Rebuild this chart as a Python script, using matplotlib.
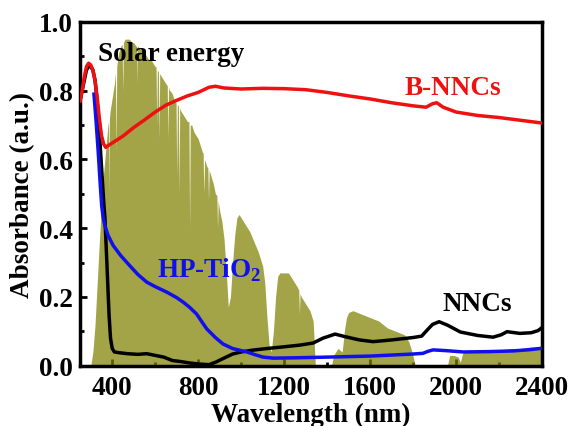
import matplotlib
matplotlib.use('Agg')
import matplotlib.pyplot as plt
from matplotlib.ticker import MultipleLocator

plt.rcParams['font.family'] = 'Liberation Serif'
plt.rcParams['font.weight'] = 'bold'
plt.rcParams['mathtext.fontset'] = 'custom'
plt.rcParams['mathtext.rm'] = 'Liberation Serif:bold'
plt.rcParams['mathtext.bf'] = 'Liberation Serif:bold'

# solar spectrum (scaled), incl. the narrow absorption dips
solar_nm = [280, 300, 310, 320, 330, 340, 350, 360, 370, 380, 383, 385, 387, 390, 400, 410, 415, 418,
            421, 425, 430, 440, 446, 449, 452, 460, 470, 480, 490, 500, 510, 514, 516, 518, 525, 530,
            540, 550, 560, 570, 580, 590, 600, 604, 607, 610, 615, 618, 621, 630, 640, 650, 656, 659,
            662, 666, 670, 680, 690, 697, 700, 703, 708, 711, 714, 720, 730, 740, 750, 757, 760, 763,
            770, 780, 790, 800, 810, 820, 823, 826, 830, 840, 845, 848, 851, 860, 870, 880, 887, 890,
            893, 900, 910, 920, 930, 940, 950, 960, 970, 980, 990, 1000, 1020, 1040, 1060, 1080, 1100,
            1110, 1120, 1130, 1140, 1150, 1160, 1170, 1180, 1200, 1220, 1240, 1260, 1268, 1271, 1274,
            1280, 1300, 1320, 1335, 1345, 1420, 1430, 1450, 1470, 1480, 1490, 1500, 1520, 1540, 1560,
            1580, 1600, 1620, 1640, 1660, 1680, 1700, 1720, 1740, 1760, 1780, 1795, 1810, 1960, 1970,
            1990, 2010, 2020, 2030, 2050, 2080, 2100, 2150, 2200, 2250, 2300, 2350, 2400]
solar_val = [0.0, 0.0, 0.04, 0.12, 0.24, 0.36, 0.47, 0.56, 0.63, 0.70, 0.71, 0.50, 0.72, 0.74, 0.78, 0.82,
             0.85, 0.62, 0.87, 0.89, 0.91, 0.93, 0.935, 0.80, 0.94, 0.95, 0.95, 0.95, 0.94, 0.94, 0.93,
             0.93, 0.82, 0.93, 0.925, 0.92, 0.92, 0.91, 0.90, 0.89, 0.89, 0.88, 0.87, 0.87, 0.70, 0.86,
             0.855, 0.66, 0.85, 0.84, 0.83, 0.82, 0.815, 0.66, 0.81, 0.80, 0.80, 0.79, 0.77, 0.765, 0.55,
             0.76, 0.755, 0.50, 0.75, 0.74, 0.73, 0.72, 0.71, 0.71, 0.40, 0.70, 0.70, 0.68, 0.67, 0.66,
             0.64, 0.62, 0.62, 0.50, 0.60, 0.58, 0.575, 0.48, 0.57, 0.55, 0.53, 0.50, 0.495, 0.40, 0.48,
             0.45, 0.42, 0.37, 0.28, 0.17, 0.20, 0.30, 0.38, 0.43, 0.44, 0.43, 0.41, 0.39, 0.36, 0.33,
             0.29, 0.24, 0.14, 0.06, 0.04, 0.10, 0.20, 0.26, 0.27, 0.27, 0.27, 0.25, 0.23, 0.22, 0.15,
             0.21, 0.20, 0.18, 0.16, 0.13, 0.0, 0.0, 0.03, 0.05, 0.04, 0.10, 0.14, 0.155, 0.16, 0.155,
             0.15, 0.145, 0.14, 0.135, 0.13, 0.12, 0.11, 0.105, 0.10, 0.095, 0.09, 0.07, 0.04, 0.0, 0.0,
             0.03, 0.03, 0.025, 0.01, 0.035, 0.045, 0.04, 0.045, 0.045, 0.045, 0.05, 0.05, 0.055, 0.055]

bnnc_nm = [250, 260, 270, 280, 290, 300, 310, 320, 330, 340, 350, 360, 370, 380, 400, 450, 500, 550,
           600, 650, 700, 750, 800, 850, 880, 920, 1000, 1100, 1200, 1300, 1400, 1500, 1600, 1700,
           1800, 1860, 1890, 1910, 1940, 2000, 2100, 2200, 2300, 2400]
bnnc_abs = [0.77, 0.80, 0.84, 0.87, 0.88, 0.875, 0.86, 0.83, 0.78, 0.72, 0.67, 0.645, 0.635, 0.64, 0.648,
            0.668, 0.693, 0.715, 0.738, 0.758, 0.772, 0.785, 0.795, 0.81, 0.813, 0.808, 0.805, 0.807,
            0.806, 0.803, 0.795, 0.785, 0.776, 0.765, 0.756, 0.752, 0.762, 0.765, 0.752, 0.738, 0.728,
            0.722, 0.714, 0.706]

nnc_nm = [250, 280, 295, 310, 320, 330, 340, 350, 360, 366, 375, 385, 392, 400, 410, 430, 470, 520,
          560, 600, 640, 680, 720, 760, 800, 850, 880, 920, 960, 1000, 1050, 1120, 1200, 1274, 1335,
          1380, 1437, 1480, 1550, 1614, 1700, 1800, 1840, 1860, 1890, 1921, 1960, 2020, 2100, 2172,
          2210, 2237, 2297, 2350, 2381, 2398]
nnc_abs = [0.77, 0.86, 0.875, 0.86, 0.83, 0.77, 0.68, 0.58, 0.48, 0.43, 0.30, 0.15, 0.08, 0.05, 0.04,
           0.038, 0.035, 0.033, 0.035, 0.03, 0.025, 0.015, 0.012, 0.008, 0.005, 0.003, 0.01, 0.022,
           0.034, 0.04, 0.045, 0.05, 0.055, 0.06, 0.066, 0.08, 0.092, 0.085, 0.075, 0.07, 0.075, 0.082,
           0.086, 0.10, 0.12, 0.128, 0.118, 0.098, 0.088, 0.083, 0.09, 0.099, 0.094, 0.096, 0.102, 0.11]

tio2_nm = [315, 325, 335, 345, 351, 358, 366, 380, 404, 440, 483, 520, 561, 600, 654, 700, 730, 760,
           793, 820, 840, 880, 916, 960, 1027, 1060, 1102, 1150, 1250, 1400, 1600, 1800, 1846, 1870,
           1893, 1950, 2033, 2150, 2265, 2350, 2400]
tio2_abs = [0.79, 0.71, 0.62, 0.52, 0.465, 0.43, 0.407, 0.38, 0.35, 0.32, 0.29, 0.265, 0.243, 0.23,
            0.214, 0.198, 0.185, 0.17, 0.15, 0.125, 0.107, 0.082, 0.063, 0.05, 0.04, 0.033, 0.025,
            0.022, 0.023, 0.025, 0.028, 0.034, 0.036, 0.042, 0.046, 0.044, 0.04, 0.041, 0.043, 0.047,
            0.051]

fs = 19.5
fig = plt.figure(figsize=(5.69, 4.27), dpi=100)
ax = fig.add_axes([0.1406, 0.1412, 0.812, 0.805])
ax.set_axisbelow(True)

ax.fill_between(solar_nm, solar_val, 0, color='olive', alpha=0.72, linewidth=0, zorder=1)
ax.plot(nnc_nm, nnc_abs, color='black', lw=2.5, zorder=3)
ax.plot(tio2_nm, tio2_abs, color='#1010ee', lw=2.5, zorder=4)
ax.plot(bnnc_nm, bnnc_abs, color='#ee1111', lw=2.5, zorder=5)

ax.text(334, 0.907, 'Solar energy', color='black', fontsize=fs, fontweight='bold', va='center')
ax.text(1762, 0.81, 'B-NNCs', color='#ee1111', fontsize=fs, fontweight='bold', va='center')
ax.text(608, 0.28, 'HP-TiO$_\\mathrm{2}$', color='#1010ee', fontsize=fs, fontweight='bold', va='center')
ax.text(1939, 0.18, 'NNCs', color='black', fontsize=fs, fontweight='bold', va='center')

ax.set_xlim(250, 2400)
ax.set_ylim(0, 1.0)
ax.xaxis.set_major_locator(MultipleLocator(400))
ax.xaxis.set_minor_locator(MultipleLocator(200))
ax.yaxis.set_major_locator(MultipleLocator(0.2))
ax.yaxis.set_minor_locator(MultipleLocator(0.1))
ax.tick_params(which='both', direction='in', width=2, labelsize=fs, top=False, right=False)
ax.tick_params(axis='x', which='both', pad=7)
ax.tick_params(axis='y', which='both', pad=5)
ax.tick_params(which='major', length=5)
ax.tick_params(which='minor', length=3)
for s in ax.spines.values():
    s.set_linewidth(2.5)

ax.set_xlabel('Wavelength (nm)', fontsize=fs, fontweight='bold', labelpad=1)
ax.set_ylabel('Absorbance (a.u.)', fontsize=fs, fontweight='bold', labelpad=3)

plt.savefig('out.png', dpi=100)
